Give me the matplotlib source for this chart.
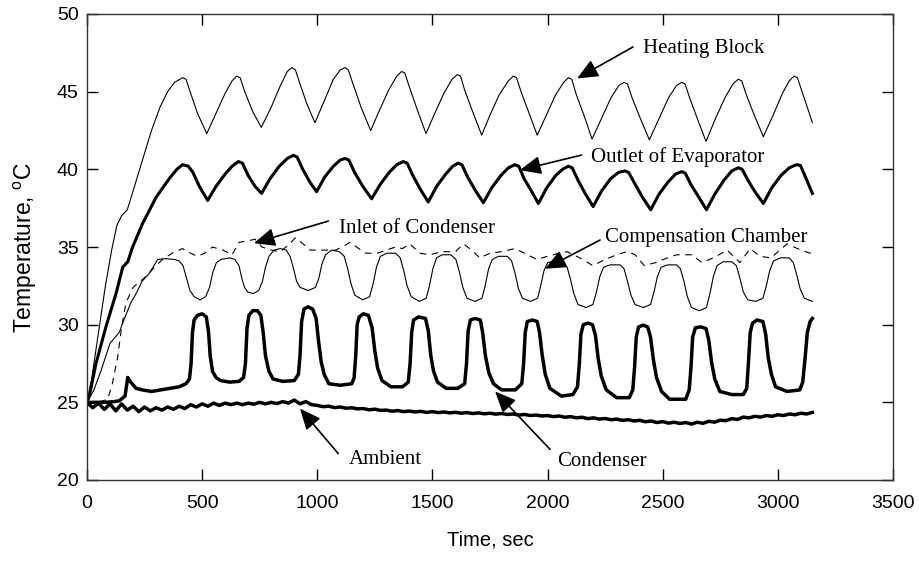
import matplotlib
matplotlib.use("Agg")
import matplotlib.pyplot as plt

plt.rcParams['font.family'] = ['Liberation Sans', 'DejaVu Sans']
plt.rcParams['mathtext.fontset'] = 'custom'
plt.rcParams['mathtext.rm'] = 'Liberation Sans'

# --- data (time in s, temperature in degC) ---
heat_t = [0, 20, 50, 80, 107, 130, 150, 175, 200, 245, 280, 317, 350, 380, 415, 430, 450, 480, 520,
          560, 600, 630, 650, 665, 685, 720, 757,
          800, 840, 870, 890, 905, 925, 955, 990,
          1030, 1070, 1100, 1120, 1135, 1155, 1190, 1232,
          1270, 1310, 1345, 1366, 1380, 1400, 1435, 1472,
          1510, 1550, 1585, 1608, 1622, 1640, 1675, 1714,
          1750, 1790, 1830, 1851, 1865, 1885, 1920, 1955,
          1995, 2035, 2070, 2090, 2105, 2125, 2160, 2193,
          2235, 2275, 2310, 2332, 2347, 2367, 2405, 2442,
          2485, 2525, 2560, 2582, 2597, 2617, 2652, 2688,
          2730, 2770, 2805, 2828, 2843, 2863, 2900, 2937,
          2980, 3020, 3050, 3070, 3085, 3105, 3130, 3150]
heat_T = [25.0, 26.5, 29.5, 32.5, 34.8, 36.4, 37.0, 37.4, 38.6, 40.8, 42.5, 44.0, 45.0, 45.6, 45.9, 45.8, 44.9, 43.6, 42.3,
          43.6, 44.9, 45.7, 46.0, 45.9, 45.0, 43.7, 42.7,
          44.0, 45.4, 46.3, 46.55, 46.4, 45.5, 44.2, 43.0,
          44.4, 45.8, 46.4, 46.55, 46.4, 45.5, 44.0, 42.5,
          43.8, 45.1, 46.0, 46.3, 46.2, 45.3, 43.8, 42.3,
          43.6, 44.9, 45.8, 46.1, 46.0, 45.1, 43.7, 42.2,
          43.5, 44.8, 45.7, 46.0, 45.9, 45.0, 43.6, 42.2,
          43.5, 44.8, 45.6, 45.9, 45.8, 44.8, 43.4, 41.95,
          43.3, 44.6, 45.4, 45.6, 45.5, 44.6, 43.2, 41.9,
          43.3, 44.6, 45.4, 45.6, 45.5, 44.6, 43.2, 41.8,
          43.3, 44.6, 45.5, 45.8, 45.7, 44.8, 43.4, 42.1,
          43.5, 44.9, 45.7, 46.0, 45.9, 45.0, 43.9, 43.0]

evap_t = [0, 10, 39, 83, 126, 155, 177, 198, 241, 300, 357, 390, 415, 440, 460, 488, 524,
          560, 600, 630, 657, 675, 700, 730, 758,
          795, 835, 870, 896, 912, 937, 967, 997,
          1032, 1070, 1100, 1120, 1137, 1162, 1198, 1236,
          1272, 1312, 1345, 1373, 1390, 1415, 1448, 1482,
          1518, 1558, 1588, 1612, 1628, 1653, 1688, 1721,
          1757, 1797, 1830, 1858, 1875, 1898, 1930, 1960,
          1996, 2035, 2065, 2090, 2107, 2132, 2165, 2198,
          2234, 2274, 2308, 2336, 2352, 2378, 2412, 2448,
          2484, 2524, 2556, 2582, 2598, 2623, 2657, 2690,
          2726, 2766, 2800, 2828, 2845, 2870, 2903, 2937,
          2973, 3013, 3050, 3081, 3098, 3120, 3150]
evap_T = [25.0, 25.4, 27.5, 29.9, 32.0, 33.7, 34.05, 35.0, 36.5, 38.2, 39.4, 40.0, 40.3, 40.2, 39.8, 38.9, 38.0,
          38.9, 39.7, 40.2, 40.5, 40.4, 39.6, 38.9, 38.45,
          39.4, 40.2, 40.7, 40.9, 40.8, 40.0, 39.2, 38.56,
          39.5, 40.2, 40.6, 40.7, 40.6, 39.8, 38.9, 38.1,
          39.0, 39.8, 40.3, 40.5, 40.4, 39.6, 38.7, 37.9,
          38.9, 39.7, 40.2, 40.4, 40.3, 39.5, 38.6, 37.85,
          38.8, 39.6, 40.1, 40.3, 40.2, 39.4, 38.6, 37.8,
          38.8, 39.6, 40.0, 40.2, 40.1, 39.3, 38.4, 37.6,
          38.6, 39.4, 39.8, 39.9, 39.8, 39.1, 38.2, 37.4,
          38.4, 39.2, 39.7, 39.85, 39.75, 39.0, 38.2, 37.4,
          38.4, 39.3, 39.9, 40.1, 40.0, 39.3, 38.5, 37.8,
          38.8, 39.6, 40.1, 40.3, 40.25, 39.5, 38.45]

inlet_t = [0, 40, 70, 90, 110, 133, 150, 169, 200, 256, 300, 328, 370, 415, 450, 480, 510, 545, 590, 630,
           660, 700, 730, 760, 800, 840, 880, 905, 930, 970, 1020, 1080, 1120, 1142, 1180, 1210, 1260,
           1300, 1340, 1370, 1402, 1445, 1490, 1540, 1600, 1635, 1670, 1706, 1750, 1800, 1858, 1900,
           1953, 2000, 2050, 2085, 2140, 2197, 2250, 2300, 2345, 2380, 2420, 2470, 2520, 2560, 2627,
           2670, 2720, 2780, 2835, 2880, 2922, 2970, 3040, 3100, 3140, 3150]
inlet_T = [25.0, 25.0, 25.1, 25.2, 26.2, 27.9, 29.8, 31.4, 32.4, 33.1, 33.8, 34.2, 34.6, 34.9, 34.6, 34.4, 34.6, 35.0, 34.8, 34.5,
           35.3, 35.4, 35.5, 35.0, 34.8, 34.7, 35.2, 35.6, 35.3, 34.8, 34.8, 34.8, 35.1, 35.3, 34.9, 34.6, 34.6,
           34.8, 35.0, 34.9, 35.2, 34.6, 34.5, 34.7, 34.7, 35.2, 34.8, 34.3, 34.6, 34.7, 34.9, 34.6,
           34.2, 34.4, 34.6, 34.7, 34.3, 33.8, 34.2, 34.5, 34.7, 34.5, 33.8, 34.0, 34.3, 34.5, 34.5,
           34.0, 34.3, 34.8, 34.0, 34.9, 34.4, 34.3, 35.2, 34.8, 34.6, 34.8]

comp_t = [0, 30, 60, 100, 140, 160, 190, 213, 240, 270, 307, 340, 380, 400, 417, 432, 447, 465, 491,
          515, 532, 547, 562, 582, 620, 642, 660, 672, 684, 698, 722,
          746, 762, 775, 790, 812, 840, 865, 882, 897, 910, 925, 961,
          992, 1007, 1020, 1036, 1062, 1095, 1117, 1132, 1147, 1163, 1197,
          1227, 1242, 1257, 1274, 1302, 1340, 1360, 1375, 1390, 1408, 1443,
          1473, 1487, 1502, 1518, 1542, 1580, 1602, 1617, 1632, 1650, 1685,
          1715, 1729, 1744, 1760, 1787, 1825, 1844, 1859, 1874, 1891, 1926,
          1957, 1970, 1985, 2001, 2032, 2068, 2085, 2100, 2114, 2132, 2167,
          2197, 2212, 2227, 2243, 2272, 2315, 2332, 2347, 2362, 2380, 2416,
          2447, 2462, 2477, 2493, 2522, 2560, 2577, 2592, 2607, 2625, 2659,
          2690, 2705, 2720, 2736, 2762, 2800, 2820, 2835, 2850, 2869, 2905,
          2935, 2950, 2965, 2981, 3012, 3050, 3067, 3082, 3097, 3115, 3150]
comp_T = [25.0, 25.8, 27.0, 28.8, 29.5, 30.3, 31.4, 32.0, 32.8, 33.3, 34.2, 34.25, 34.2, 34.1, 33.8, 33.0, 32.2, 31.8, 31.6,
          31.8, 32.4, 33.4, 34.0, 34.2, 34.3, 34.2, 33.8, 33.0, 32.4, 32.1, 32.0,
          32.2, 32.8, 33.7, 34.4, 34.8, 34.9, 34.8, 34.4, 33.6, 32.8, 32.4, 32.2,
          32.4, 33.0, 33.9, 34.5, 34.8, 34.7, 34.4, 33.6, 32.6, 31.9, 31.6,
          31.8, 32.6, 33.7, 34.4, 34.6, 34.6, 34.3, 33.5, 32.5, 31.8, 31.5,
          31.7, 32.5, 33.6, 34.3, 34.5, 34.5, 34.2, 33.4, 32.4, 31.7, 31.5,
          31.7, 32.5, 33.6, 34.2, 34.4, 34.4, 34.1, 33.3, 32.3, 31.7, 31.5,
          31.7, 32.5, 33.5, 34.0, 34.1, 34.0, 33.7, 32.9, 32.0, 31.3, 31.1,
          31.3, 32.1, 33.1, 33.7, 33.85, 33.85, 33.6, 32.8, 31.9, 31.3, 31.1,
          31.3, 32.1, 33.1, 33.7, 33.85, 33.85, 33.6, 32.8, 31.8, 31.1, 30.9,
          31.1, 32.0, 33.1, 33.8, 34.05, 34.05, 33.8, 33.0, 32.1, 31.6, 31.5,
          31.7, 32.5, 33.5, 34.1, 34.3, 34.3, 34.0, 33.2, 32.3, 31.7, 31.5]

cond_t = [0, 40, 80, 120, 140, 165, 177, 190, 213, 240, 280, 320, 360, 400, 430, 445, 452, 458, 465, 480, 500, 518,
          528, 535, 545, 560, 580, 620, 660, 680, 688, 695, 703, 720, 740, 755, 765, 775, 790, 808, 850, 900,
          918, 925, 932, 942, 960, 980, 995, 1005, 1017, 1030, 1050, 1100, 1150, 1160, 1167, 1173, 1182, 1200,
          1222, 1238, 1250, 1262, 1281, 1320, 1370, 1395, 1403, 1410, 1418, 1440, 1470, 1482, 1493, 1505,
          1522, 1560, 1610, 1640, 1648, 1655, 1665, 1685, 1708, 1718, 1730, 1745, 1765, 1800, 1860, 1888,
          1896, 1903, 1912, 1935, 1955, 1965, 1977, 1990, 2010, 2060, 2110, 2130, 2138, 2145, 2155, 2175,
          2195, 2208, 2220, 2233, 2255, 2300, 2355, 2370, 2378, 2385, 2395, 2415, 2435, 2447, 2460, 2473,
          2495, 2530, 2600, 2615, 2623, 2630, 2642, 2665, 2688, 2700, 2712, 2726, 2748, 2800, 2850, 2865,
          2872, 2880, 2890, 2910, 2935, 2947, 2958, 2972, 2990, 3040, 3095, 3108, 3118, 3128, 3140, 3150]
cond_T = [25.0, 25.0, 25.0, 25.05, 25.1, 25.4, 26.6, 26.3, 25.9, 25.8, 25.7, 25.8, 25.9, 26.0, 26.2, 26.5, 27.5, 29.5, 30.3, 30.6, 30.7, 30.5,
          29.5, 28.0, 27.0, 26.6, 26.4, 26.3, 26.35, 26.6, 27.5, 29.8, 30.6, 30.9, 30.9, 30.6, 29.5, 28.0, 27.0, 26.5, 26.35, 26.4,
          26.8, 28.0, 30.2, 31.0, 31.15, 31.0, 30.4, 29.0, 27.6, 26.8, 26.2, 26.1, 26.2, 26.6, 28.0, 30.0, 30.5, 30.7,
          30.6, 29.8, 28.3, 27.2, 26.4, 26.0, 26.0, 26.3, 27.5, 29.5, 30.3, 30.5, 30.4, 29.6, 28.0, 27.0,
          26.3, 25.9, 25.9, 26.2, 27.5, 29.6, 30.3, 30.4, 30.3, 29.5, 28.0, 26.9, 26.2, 25.8, 25.8, 26.2,
          27.5, 29.5, 30.2, 30.3, 30.2, 29.5, 28.0, 26.8, 25.9, 25.4, 25.5, 26.0, 27.5, 29.4, 30.0, 30.1,
          30.0, 29.3, 27.8, 26.7, 25.8, 25.3, 25.3, 25.8, 27.3, 29.2, 29.85, 29.97, 29.85, 29.2, 27.7, 26.6,
          25.7, 25.2, 25.2, 25.8, 27.3, 29.2, 29.8, 29.86, 29.75, 29.0, 27.6, 26.5, 25.7, 25.5, 25.5, 25.9,
          27.5, 29.5, 30.1, 30.3, 30.2, 29.4, 27.9, 26.8, 26.0, 25.7, 25.8, 26.3, 27.8, 29.5, 30.2, 30.4]

amb_t = [0, 25, 50, 75, 100, 125, 150, 175,
         200, 225, 250, 275, 300, 325, 350, 375,
         400, 425, 450, 475, 500, 525, 550, 575,
         600, 625, 650, 675, 700, 725, 750, 775,
         800, 825, 850, 875, 900, 925, 950, 975,
         1000, 1025, 1050, 1075, 1100, 1125, 1150, 1175,
         1200, 1225, 1250, 1275, 1300, 1325, 1350, 1375,
         1400, 1425, 1450, 1475, 1500, 1525, 1550, 1575,
         1600, 1625, 1650, 1675, 1700, 1725, 1750, 1775,
         1800, 1825, 1850, 1875, 1900, 1925, 1950, 1975,
         2000, 2025, 2050, 2075, 2100, 2125, 2150, 2175,
         2200, 2225, 2250, 2275, 2300, 2325, 2350, 2375,
         2400, 2425, 2450, 2475, 2500, 2525, 2550, 2575,
         2600, 2625, 2650, 2675, 2700, 2725, 2750, 2775,
         2800, 2825, 2850, 2875, 2900, 2925, 2950, 2975,
         3000, 3025, 3050, 3075, 3100, 3125, 3150]
amb_T = [25.0, 24.65, 24.95, 24.55, 24.9, 24.45, 24.9, 24.5,
         24.75, 24.4, 24.7, 24.45, 24.65, 24.5, 24.7, 24.55,
         24.75, 24.6, 24.85, 24.7, 24.9, 24.75, 24.95, 24.8,
         24.95, 24.85, 24.95, 24.85, 24.95, 24.88, 25.0, 24.9,
         25.0, 24.92, 25.05, 24.95, 25.15, 24.9, 25.05, 24.85,
         24.8, 24.72, 24.75, 24.66, 24.7, 24.62, 24.65, 24.58,
         24.6, 24.52, 24.56, 24.48, 24.5, 24.43, 24.47, 24.4,
         24.44, 24.38, 24.42, 24.35, 24.4, 24.34, 24.38, 24.32,
         24.36, 24.3, 24.34, 24.28, 24.32, 24.26, 24.3, 24.24,
         24.28, 24.22, 24.25, 24.18, 24.22, 24.15, 24.18, 24.12,
         24.15, 24.08, 24.12, 24.04, 24.08, 24.0, 24.04, 23.95,
         24.0, 23.92, 23.96, 23.88, 23.92, 23.84, 23.88, 23.8,
         23.84, 23.75, 23.8, 23.7, 23.76, 23.66, 23.72, 23.64,
         23.7, 23.6, 23.72, 23.65, 23.78, 23.72, 23.85, 23.82,
         23.95, 23.9, 24.05, 24.0, 24.1, 24.05, 24.15, 24.1,
         24.2, 24.15, 24.25, 24.2, 24.3, 24.25, 24.35]

fig = plt.figure(figsize=(9.2, 5.62), dpi=100)
ax = fig.add_axes([87 / 920, 82 / 562, 806 / 920, 466 / 562])

ax.plot(heat_t, heat_T, color='black', lw=0.8)
ax.plot(evap_t, evap_T, color='black', lw=2.2)
ax.plot(inlet_t, inlet_T, color='black', lw=0.8, linestyle=(0, (6, 5)))
ax.plot(comp_t, comp_T, color='black', lw=0.8)
ax.plot(cond_t, cond_T, color='black', lw=2.5)
ax.plot(amb_t, amb_T, color='black', lw=2.5)

ax.set_xlim(0, 3500)
ax.set_ylim(20, 50)
ax.set_xticks(range(0, 3501, 500))
ax.set_yticks(range(20, 51, 5))
ax.tick_params(direction='in', length=8, width=1, top=True, right=True, labelsize=14)
ax.tick_params(axis='x', pad=11)
ax.tick_params(axis='y', pad=6)
for sp in ax.spines.values():
    sp.set_linewidth(1.0)
    sp.set_color('#333333')

ax.set_xlabel('Time, sec', fontsize=14.5, labelpad=13)
ax.set_ylabel('Temperature, $^{\\mathrm{o}}$C', fontsize=16.5, labelpad=13)

# labels with arrows: (text, text x, text y, arrow tail, arrow head)
notes = [('Heating Block', 2414, 47.8, (2371, 47.88), (2128, 45.85)),
         ('Outlet of Evaporator', 2187, 40.8, (2148, 40.92), (1880, 39.95)),
         ('Inlet of Condenser', 1096, 36.2, (1048, 36.67), (725, 35.25)),
         ('Compensation Chamber', 2249, 35.6, (2228, 35.45), (1989, 33.6)),
         ('Ambient', 1135, 21.3, (1091, 21.7), (925, 24.6)),
         ('Condenser', 2040, 21.2, (2011, 21.97), (1772, 25.7))]
for txt, tx, ty, tail, head in notes:
    ax.text(tx, ty, txt, family=['Liberation Serif', 'DejaVu Serif'], fontsize=15,
            ha='left', va='center')
    ax.annotate('', xy=head, xytext=tail,
                arrowprops=dict(arrowstyle='-|>,head_length=0.8,head_width=0.35',
                                mutation_scale=16, color='black', lw=1.2,
                                shrinkA=0, shrinkB=0))

fig.savefig('out.png', dpi=100)
